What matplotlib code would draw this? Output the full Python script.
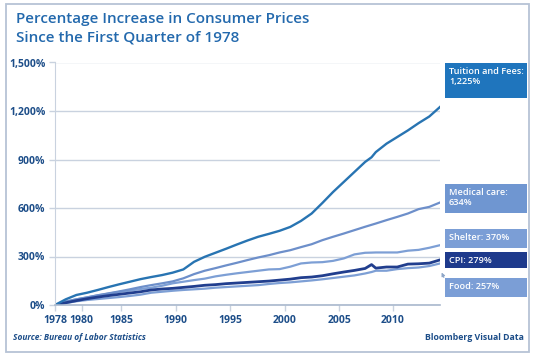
import matplotlib.pyplot as plt
from matplotlib.patches import Rectangle

# Percent increase since Q1 1978
years = [1978, 1979, 1980, 1981, 1982, 1983, 1984, 1985, 1986, 1987,
         1988, 1989, 1990, 1991, 1992, 1993, 1994, 1995, 1996, 1997,
         1998, 1999, 2000, 2001, 2002, 2003, 2004, 2005, 2006, 2007,
         2007.6, 2008, 2009, 2010, 2011, 2012, 2013, 2014]

tuition = [0, 35, 62, 76, 93, 111, 128, 144, 160, 173,
           185, 200, 220, 267, 298, 323, 348, 374, 399, 422,
           440, 459, 483, 520, 566, 631, 699, 761, 823, 885,
           914, 946, 998, 1039, 1080, 1125, 1166, 1225]
medical = [0, 21, 35, 47, 60, 72, 84, 97, 111, 123,
           134, 146, 165, 191, 212, 228, 245, 261, 278, 294,
           308, 325, 339, 358, 376, 401, 422, 442, 463, 484,
           496, 504, 525, 545, 566, 593, 607, 634]
shelter = [0, 21, 35, 47, 60, 70, 81, 89, 99, 107,
           119, 134, 144, 154, 163, 177, 187, 196, 204, 212,
           220, 222, 237, 257, 263, 265, 273, 288, 313, 323,
           324, 325, 325, 325, 336, 341, 354, 370]
cpi = [0, 14, 27, 39, 49, 58, 66, 74, 82, 93,
       99, 103, 109, 115, 122, 126, 132, 136, 140, 144,
       148, 154, 160, 169, 173, 181, 193, 204, 214, 226,
       250, 228, 235, 235, 253, 255, 259, 279]
food = [0, 12, 23, 31, 37, 43, 49, 56, 64, 76,
        82, 88, 93, 97, 101, 107, 111, 115, 119, 123,
        130, 136, 140, 146, 152, 159, 167, 175, 183, 195,
        204, 212, 212, 222, 228, 232, 241, 257]

# tick labels sit where the original chart put them (its spacing is uneven)
xtick_pos = [1978, 1980.5, 1984.2, 1989.3, 1994.4, 1999.5, 2004.6, 2009.6]
xtick_labels = ['1978', '1980', '1985', '1990', '1995', '2000', '2005', '2010']
yticks = [0, 300, 600, 900, 1200, 1500]

plt.rcParams['font.family'] = ['Open Sans', 'DejaVu Sans']

W, H = 538, 359
fig = plt.figure(figsize=(W / 100, H / 100), dpi=100)

def fx(px):
    return px / W

def fy(py):
    return 1 - py / H

navy = '#1d4e89'
grid_c = '#c9d2df'

# outer frame
fig.add_artist(Rectangle((fx(6), fy(352)), fx(529) - fx(6), fy(4) - fy(352),
                         transform=fig.transFigure, fill=False,
                         edgecolor='#b6c3d5', linewidth=1.3))

fig.text(fx(16), fy(12), "Percentage Increase in Consumer Prices\nSince the First Quarter of 1978",
         ha='left', va='top', fontsize=11, fontweight='semibold', color='#2369ad',
         linespacing=1.4)

ax = fig.add_axes([fx(55), fy(305), fx(440) - fx(55), fy(62.5) - fy(305)])

ax.plot(years, food, color='#7d9fd5', lw=1.6)
ax.plot(years, shelter, color='#7d9fd5', lw=1.6)
ax.plot(years, medical, color='#6d8fca', lw=1.6)
ax.plot(years, cpi, color='#213e8e', lw=2.0)
ax.plot(years, tuition, color='#2874b2', lw=1.7)

ax.set_xlim(1978, 2014)
ax.set_ylim(0, 1500)
ax.set_xticks(xtick_pos)
ax.set_xticklabels(xtick_labels)
ax.set_yticks(yticks)
ax.set_yticklabels(["{:,}%".format(v) for v in yticks])
ax.grid(axis='y', color=grid_c, lw=1.0)
ax.set_axisbelow(True)

for s in ['top', 'right']:
    ax.spines[s].set_visible(False)
ax.spines['left'].set_color(grid_c)
ax.spines['bottom'].set_color('#a9b8cd')
ax.spines['bottom'].set_linewidth(1.2)
ax.tick_params(axis='both', colors=grid_c, length=4, width=1, labelsize=7.5,
               labelcolor=navy, pad=3)
for lab in ax.get_xticklabels() + ax.get_yticklabels():
    lab.set_fontweight('bold')

# labels on the right
boxes = [
    (63, 98, '#1f75bd', "Tuition and Fees:\n1,225%"),
    (184, 213, '#6f96d1', "Medical care:\n634%"),
    (229, 248, '#7b9ed6', "Shelter: 370%"),
    (252, 268, '#1e3a8c', "CPI: 279%"),
    (278, 297, '#7b9ed6', "Food: 257%"),
]
for top, bot, col, txt in boxes:
    fig.add_artist(Rectangle((fx(445), fy(bot)), fx(527) - fx(445), fy(top) - fy(bot),
                             transform=fig.transFigure, facecolor=col, edgecolor='none'))
    fig.text(fx(449), fy(top + 4), txt, ha='left', va='top', fontsize=6.6,
             fontweight='semibold', color='white', linespacing=1.1)

ax.annotate('', xy=(fx(440.5), fy(270)), xytext=(fx(445), fy(280)),
            xycoords='figure fraction', textcoords='figure fraction',
            arrowprops=dict(arrowstyle='-|>', color='#8ea6c8', lw=0.8, mutation_scale=5))

fig.text(fx(13), fy(340), "Source: Bureau of Labor Statistics", ha='left', va='baseline',
         fontsize=6, fontweight='bold', fontstyle='italic', color=navy)
fig.text(fx(524), fy(340), "Bloomberg Visual Data", ha='right', va='baseline',
         fontsize=6.3, fontweight='bold', color=navy)

fig.savefig('out.png', dpi=100)
